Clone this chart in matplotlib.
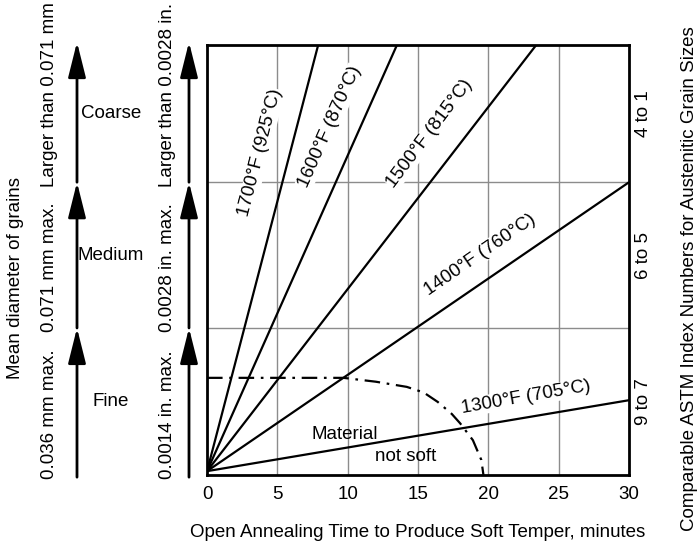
import matplotlib.pyplot as plt
from matplotlib.transforms import blended_transform_factory

plt.rcParams['font.family'] = ['Liberation Sans', 'DejaVu Sans']
plt.rcParams['font.size'] = 13.5

# annealing lines: label, time where line leaves the chart, grain level there
temps = ['1300°F (705°C)', '1400°F (760°C)', '1500°F (815°C)',
         '1600°F (870°C)', '1700°F (925°C)']
end_time = [30, 30, 23.4, 13.5, 7.9]
end_size = [0.174, 0.681, 1.0, 1.0, 1.0]
start_size = 0.009

# label placement along each line
label_time = [22.7, 19.4, 15.85, 8.74, 3.77]
label_size = [0.181, 0.512, 0.795, 0.81, 0.749]
label_rot = [10, 34.5, 53, 66, 75.5]

# "material not soft" boundary (dash-dot)
soft_time = [0, 9.7, 12.0, 14.2, 15.4, 16.4, 17.4, 18.0, 18.9, 19.5, 19.65]
soft_size = [0.226, 0.226, 0.217, 0.205, 0.192, 0.170, 0.142, 0.120, 0.081, 0.035, 0.0]

# grain size bands
band_edges = [0, 0.342, 0.681, 1.0]
grades = ['Fine', 'Medium', 'Coarse']
mm_text = ['0.036 mm max.', '0.071 mm max.', 'Larger than 0.071 mm']
in_text = ['0.0014 in. max.', '0.0028 in. max.', 'Larger than 0.0028 in.']
astm = ['9 to 7', '6 to 5', '4 to 1']

xticks = [0, 5, 10, 15, 20, 25, 30]

fig = plt.figure(figsize=(6.98, 5.46), dpi=100)
ax = fig.add_axes([0.2966, 0.130, 0.6046, 0.7875])
ax.set_xlim(0, 30)
ax.set_ylim(0, 1)

# grid
for t in xticks[1:-1]:
    ax.axvline(t, color='#8c8c8c', lw=1, zorder=1)
for e in band_edges[1:-1]:
    ax.axhline(e, color='#8c8c8c', lw=1, zorder=1)

# lines
for name, t1, s1, lt, ls, rot in zip(temps, end_time, end_size,
                                      label_time, label_size, label_rot):
    ax.plot([0, t1], [start_size, s1], color='k', lw=1.6, zorder=3,
            solid_capstyle='butt')
    ax.text(lt, ls, name, rotation=rot, rotation_mode='anchor',
            ha='center', va='center', zorder=2,
            bbox=dict(facecolor='white', edgecolor='none', pad=0.5))

ax.plot(soft_time, soft_size, color='k', lw=1.6, dashes=(7, 3, 1.2, 3), zorder=3)
ax.text(9.8, 0.095, 'Material', ha='center', va='center', zorder=4)
ax.text(14.1, 0.042, 'not soft', ha='center', va='center', zorder=4)

for sp in ax.spines.values():
    sp.set_linewidth(2)
    sp.set_zorder(5)
ax.set_xticks(xticks)
ax.set_yticks([])
ax.tick_params(axis='x', length=0, pad=8)
ax.set_xlabel('Open Annealing Time to Produce Soft Temper, minutes', labelpad=15)

# right side ASTM numbers
for i, lab in enumerate(astm):
    mid = (band_edges[i] + band_edges[i + 1]) / 2
    ax.text(1.034, mid, lab, transform=ax.get_yaxis_transform(),
            rotation=90, ha='center', va='center')
fig.text(0.988, 0.49, 'Comparable ASTM Index Numbers for Austenitic Grain Sizes',
         rotation=90, ha='center', va='center')

# left side arrows and size descriptions
trans = blended_transform_factory(fig.transFigure, ax.transData)
x_mm, x_in = 77 / 698, 189 / 698
for i in range(3):
    lo, hi = band_edges[i], band_edges[i + 1]
    lo_a = lo - 0.005 if i == 0 else lo
    hi_a = hi + 0.007 if i == 2 else hi
    for xa in (x_mm, x_in):
        ax.annotate('', xy=(xa, hi_a), xytext=(xa, lo_a), xycoords=trans,
                    textcoords=trans, annotation_clip=False,
                    arrowprops=dict(arrowstyle='-|>,head_length=1.6,head_width=0.4',
                                    color='k', lw=2, shrinkA=0, shrinkB=0))
    mid = (lo + hi) / 2
    ax.text(111 / 698, mid, grades[i], transform=trans, ha='center', va='center')
    ax.text(50 / 698, lo - 0.01, mm_text[i], transform=trans, rotation=90,
            rotation_mode='anchor', ha='left', va='center')
    ax.text(168 / 698, lo - 0.01, in_text[i], transform=trans, rotation=90,
            rotation_mode='anchor', ha='left', va='center')
fig.text(16 / 698, 0.49, 'Mean diameter of grains', rotation=90,
         ha='center', va='center')

fig.savefig('out.png', dpi=100)
